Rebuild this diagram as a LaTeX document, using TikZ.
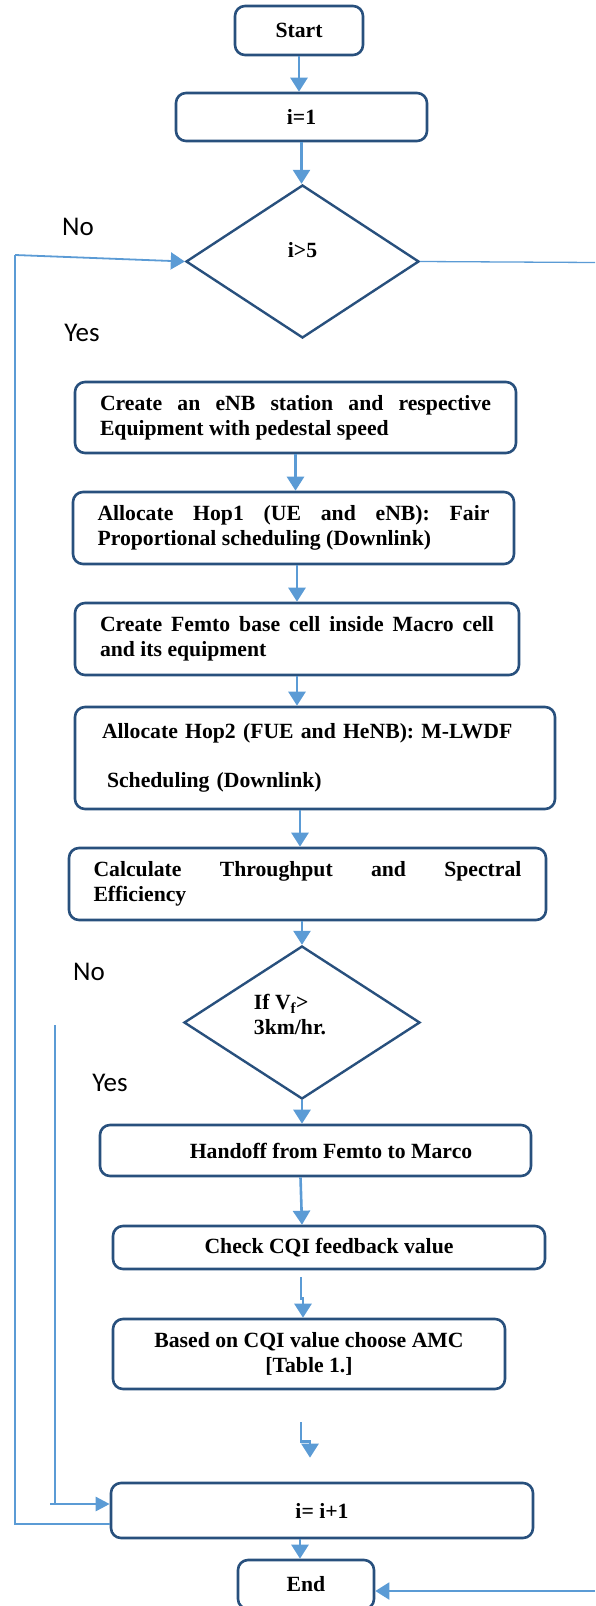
\documentclass[tikz,border=0pt]{standalone}
\usepackage{fontspec}
\setmainfont{Liberation Serif}
\newfontfamily\yesnofont{Carlito}
\usetikzlibrary{shapes.geometric,arrows.meta}
\definecolor{boxblue}{RGB}{40,80,125}
\definecolor{lineblue}{RGB}{91,155,213}
\tolerance=10000
\hyphenpenalty=10000
\newcommand{\boxfont}{\fontsize{21.7}{25}\selectfont\bfseries}
\tikzset{
  stepbox/.style={draw=boxblue, line width=2.6pt, rounded corners=10pt, inner sep=0pt, font=\boxfont},
  decide/.style={diamond, draw=boxblue, line width=2.4pt, inner sep=0pt},
  flow/.style={lineblue, line width=2.6pt, -{Triangle[width=17pt,length=14pt]}},
  loopline/.style={lineblue, line width=1.3pt},
  yesno/.style={font=\fontsize{27}{30}\selectfont\yesnofont},
}
\begin{document}
\begin{tikzpicture}[x=1pt,y=-1pt]
    \useasboundingbox (0,0) rectangle (595,1606);
    \node[stepbox, minimum width=128pt, minimum height=49pt] (start) at (299,30.5) {Start};
    \node[stepbox, minimum width=251pt, minimum height=48pt] (init) at (301.5,117) {i=1};
    \node[decide, minimum width=233pt, minimum height=153pt,
        label={[font=\boxfont, yshift=11pt]center:i>5}] (cond1) at (302.5,261.5) {};
    \node[stepbox, minimum width=441pt, minimum height=71pt, text width=391pt, align=justify] (eNB) at (295.5,417.5)
        {Create an eNB station and respective\linebreak Equipment with pedestal speed};
    \node[stepbox, minimum width=441pt, minimum height=72pt, text width=392pt, align=justify] (hop1) at (293.5,528)
        {Allocate Hop1 (UE and eNB): Fair\linebreak Proportional scheduling (Downlink)};
    \node[stepbox, minimum width=444pt, minimum height=72pt, text width=394pt, align=justify] (femto) at (297,639)
        {Create Femto base cell inside Macro cell\linebreak and its equipment};
    \node[stepbox, minimum width=480pt, minimum height=102pt, text width=426pt, align=left] (hop2) at (315,758)
        {Allocate Hop2 (FUE and HeNB): M-LWDF\\[24pt]\hspace*{5pt}Scheduling (Downlink)};
    \node[stepbox, minimum width=477pt, minimum height=72pt, text width=428pt, align=justify] (calc) at (307.5,884)
        {Calculate Throughput and Spectral\linebreak Efficiency};
    \node[decide, minimum width=236pt, minimum height=153pt,
        label={[font=\boxfont, align=left, xshift=-12pt, yshift=8pt]center:{If V\textsubscript{f}>\\3km/hr.}}] (speed) at (302,1022.5) {};
    \node[stepbox, minimum width=431pt, minimum height=51pt] (handoff) at (315.5,1150.5)
        {\hspace*{31pt}Handoff from Femto to Marco};
    \node[stepbox, minimum width=432pt, minimum height=43pt] (cqi) at (329,1247.5) {Check CQI feedback value};
    \node[stepbox, minimum width=392pt, minimum height=70pt, align=center] (amc) at (309,1354)
        {Based on CQI value choose AMC\\{[Table 1.]}};
    \node[stepbox, minimum width=422pt, minimum height=55pt] (incr) at (322,1510.5) {i= i+1};
    \node[stepbox, minimum width=136pt, minimum height=49pt] (stop) at (306,1584.5) {End};

    \node[yesno] (no1) at (78,227) {No};
    \node[yesno] (yes1) at (82,333) {Yes};
    \node[yesno] (no2) at (89,972) {No};
    \node[yesno] (yes2) at (110,1083) {Yes};

    \draw[flow] (start.south) -- (start.south |- init.north);
    \draw[flow] (init.south) -- (init.south |- cond1.north);
    \draw[flow] (eNB.south) -- (eNB.south |- hop1.north);
    \draw[flow] (femto.north |- hop1.south) -- (femto.north);
    \draw[flow] (femto.south) -- (femto.south |- hop2.north);
    \draw[flow] ([xshift=-15pt]hop2.south) -- ([xshift=-7.5pt]calc.north);
    \draw[flow] (speed.north |- calc.south) -- (speed.north);
    \draw[flow] (speed.south) -- (speed.south |- handoff.north);
    \draw[flow] ([xshift=-15pt]handoff.south) -- ([xshift=-27pt]cqi.north);
    \draw[flow] ([xshift=-28pt,yshift=-7pt]cqi.south) -- ++(0,21) -| ([xshift=-6pt]amc.north);
    \draw[flow] ([xshift=-8pt,yshift=-32pt]amc.south) -- ++(0,19) -| ([xshift=-12pt,yshift=24pt]incr.north);
    \draw[flow] ([xshift=-22pt]incr.south) -- ([xshift=-6pt]stop.north);

    \coordinate (back1) at (15,255);
    \draw[loopline] ([yshift=-13.5pt]incr.west) -| (back1);
    \draw[flow, line width=1.8pt] (back1) -- (cond1.west);
    \coordinate (back2) at (55,1025);
    \coordinate (back2end) at (50,1504);
    \draw[loopline] (back2) -- (back2 |- back2end);
    \draw[flow, -{Triangle[width=14pt,length=14pt]}] (back2end) -- (back2end -| incr.west);

    \coordinate (exit1) at (595,262.5);
    \draw[loopline] (cond1.east) -- (exit1);
    \coordinate (exit2) at (595,1591);
    \draw[flow, line width=2pt] (exit2) -- (exit2 -| stop.east);
\end{tikzpicture}
\end{document}
